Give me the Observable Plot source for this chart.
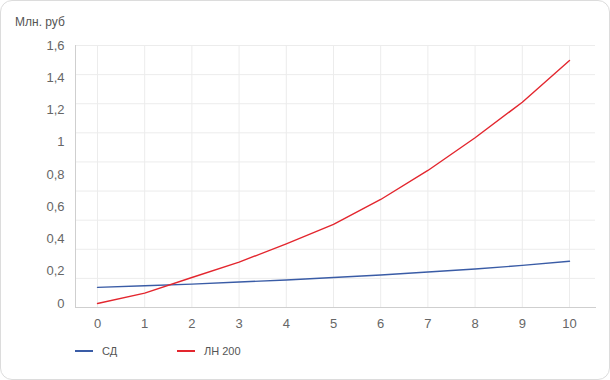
<!DOCTYPE html>
<html>
<head>
<meta charset="utf-8">
<script src="https://cdn.jsdelivr.net/npm/d3@7"></script>
<script src="https://cdn.jsdelivr.net/npm/@observablehq/plot@0.6"></script>
<style>
  html, body { margin: 0; padding: 0; background: #fff; }
  #wrap { position: relative; width: 610px; height: 380px; font-family: "Liberation Sans", Arial, sans-serif; }
  #card { position: absolute; left: 0; top: 0; width: 610px; height: 380px; box-sizing: border-box; border: 1px solid #dcdcdc; border-radius: 12px; }
  #chart { position: absolute; left: 0; top: 0; }
  #title { position: absolute; left: 15px; top: 15px; font-size: 12px; color: #555; }
  #legend { position: absolute; left: 75px; top: 345px; font-size: 11px; color: #555; display: flex; }
  .item { display: flex; align-items: center; width: 102px; }
  .swatch { width: 18px; height: 2px; margin-right: 9px; }
</style>
</head>
<body>
<div id="wrap">
  <div id="card"></div>
  <div id="chart"></div>
  <div id="title"></div>
  <div id="legend"></div>
</div>
<script>
const yLabel = "Млн. руб";
const years = [0, 1, 2, 3, 4, 5, 6, 7, 8, 9, 10];
const seriesNames = ["СД", "ЛН 200"];
const seriesColors = ["#3a5ca6", "#e3262e"];
const sdValues = [0.10, 0.11, 0.12, 0.133, 0.146, 0.161, 0.177, 0.195, 0.214, 0.236, 0.262];
const lnValues = [0.0, 0.064, 0.161, 0.256, 0.37, 0.49, 0.645, 0.825, 1.028, 1.248, 1.507];
const yTicks = [0, 0.2, 0.4, 0.6, 0.8, 1, 1.2, 1.4, 1.6];
const xTicks = years;
const yDomain = [-0.025, 1.6];
const gridCount = 10;

const data = [
  ...years.map((x, i) => ({year: x, value: sdValues[i], series: seriesNames[0]})),
  ...years.map((x, i) => ({year: x, value: lnValues[i], series: seriesNames[1]}))
];
const gridY = d3.range(gridCount).map(i => yDomain[0] + i * (yDomain[1] - yDomain[0]) / (gridCount - 1));

const chart = Plot.plot({
  width: 610,
  height: 380,
  marginLeft: 75,
  marginRight: 15,
  marginTop: 45,
  marginBottom: 73,
  style: {fontFamily: "'Liberation Sans', Arial, sans-serif", fontSize: "13px", color: "#666", background: "transparent"},
  x: {domain: [0, 10], range: [97, 569]},
  y: {domain: yDomain},
  color: {domain: seriesNames, range: seriesColors},
  marks: [
    Plot.ruleY(gridY, {stroke: "#ececec"}),
    Plot.ruleX(xTicks, {stroke: "#ececec"}),
    Plot.frame({anchor: "left", stroke: "#cfcfcf"}),
    Plot.frame({anchor: "bottom", stroke: "#cfcfcf"}),
    Plot.axisY(yTicks, {tickSize: 0, tickPadding: 11, label: null, tickFormat: d => String(d).replace(".", ",")}),
    Plot.axisX(xTicks, {tickSize: 0, tickPadding: 11, label: null, tickFormat: d => String(d)}),
    Plot.line(data, {x: "year", y: "value", stroke: "series", strokeWidth: 1.4})
  ]
});
document.getElementById("chart").appendChild(chart);
document.getElementById("title").textContent = yLabel;

const legend = document.getElementById("legend");
seriesNames.forEach((name, i) => {
  const item = document.createElement("div");
  item.className = "item";
  const sw = document.createElement("span");
  sw.className = "swatch";
  sw.style.background = seriesColors[i];
  const t = document.createElement("span");
  t.textContent = name;
  item.appendChild(sw);
  item.appendChild(t);
  legend.appendChild(item);
});
</script>
</body>
</html>
